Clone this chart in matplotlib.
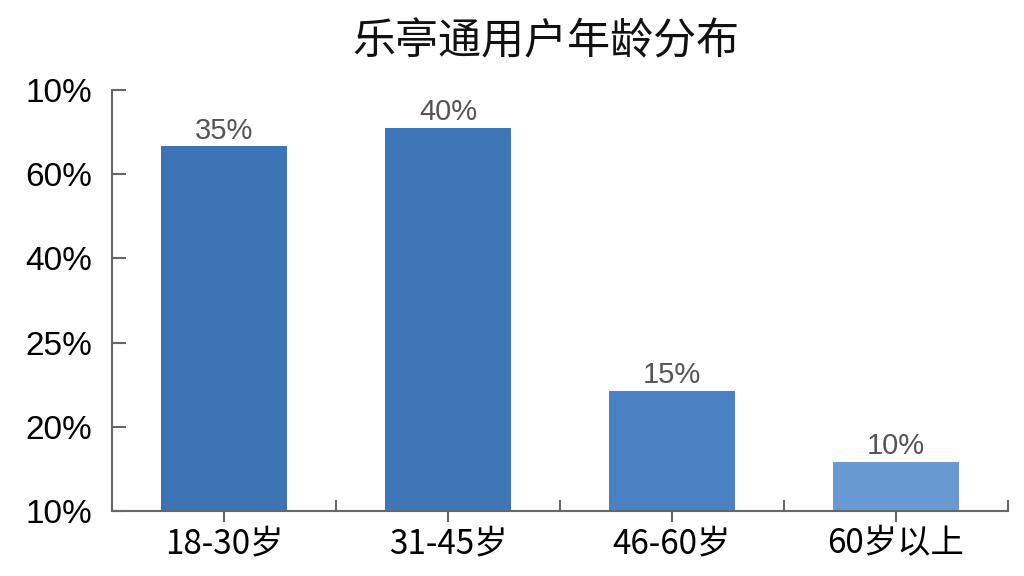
import matplotlib
matplotlib.use('Agg')
import matplotlib.pyplot as plt
import numpy as np

# data (bar heights in axis units, one unit per tick)
categories = ['18-30岁', '31-45岁', '46-60岁', '60岁以上']
heights = [4.33, 4.55, 1.43, 0.58]
bar_labels = ['35%', '40%', '15%', '10%']
ytick_labels = ['10%', '20%', '25%', '40%', '60%', '10%']
colors = ['#3d74b6', '#3e76b8', '#4a81c5', '#6899d0']

plt.rcParams['font.family'] = ['Liberation Sans', 'Noto Sans CJK SC', 'DejaVu Sans']

fig = plt.figure(figsize=(10.24, 5.76), dpi=100)
ax = fig.add_axes([112 / 1024, 1 - 511 / 576, 896 / 1024, 421 / 576])

x = np.arange(len(categories))
bars = ax.bar(x, heights, width=0.56, color=colors)
for b, lab in zip(bars, bar_labels):
    ax.text(b.get_x() + b.get_width() / 2, b.get_height() + 0.02, lab,
            ha='center', va='bottom', fontsize=21, color='#555555')

ax.set_xlim(-0.5, 3.5)
ax.set_ylim(0, 5)
ax.set_yticks(range(len(ytick_labels)))
ax.set_yticklabels(ytick_labels, fontsize=24)
ax.set_xticks(x)
ax.set_xticklabels(categories, fontsize=24, family=['Noto Sans CJK SC', 'DejaVu Sans'])
ax.set_xticks(np.arange(0.5, 4, 1), minor=True)

ax.tick_params(axis='y', direction='in', length=10, width=1.5, color='#666666', pad=14)
ax.tick_params(axis='x', which='major', direction='out', length=8, width=1.5,
               color='#666666', pad=3)
ax.tick_params(axis='x', which='minor', direction='in', length=8, width=1.5, color='#666666')

for s in ['top', 'right']:
    ax.spines[s].set_visible(False)
for s in ['left', 'bottom']:
    ax.spines[s].set_color('#666666')
    ax.spines[s].set_linewidth(1.5)

fig.text(546 / 1024, 1 - 42 / 576, '乐亭通用户年龄分布', ha='center', va='center',
         fontsize=31, family=['Noto Sans CJK SC'], weight='medium', color='#111111')

fig.savefig('out.png', dpi=100)
